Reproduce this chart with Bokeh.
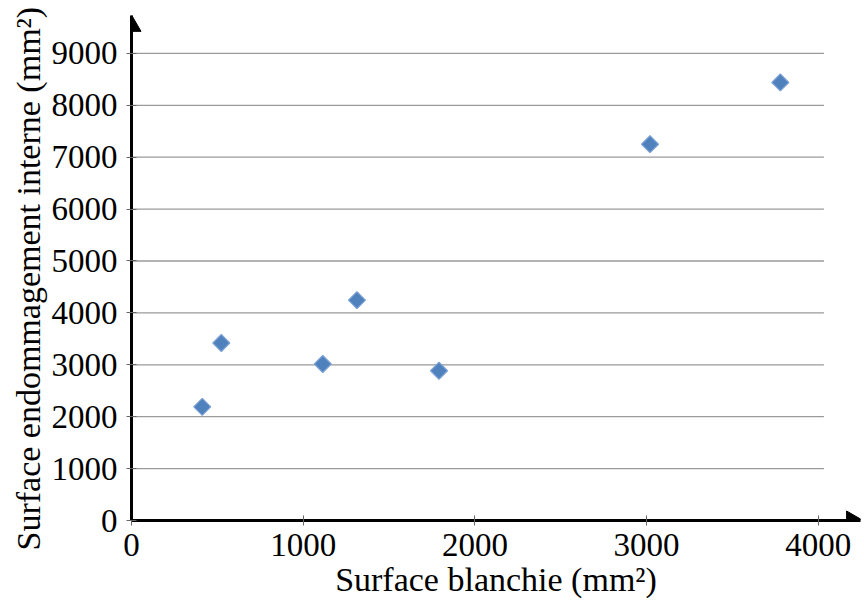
import math
from bokeh.plotting import figure
from bokeh.models import Range1d, FixedTicker, ColumnDataSource, Title
from bokeh.embed import file_html
from bokeh.resources import INLINE

# Data
surface_blanchie = [412, 523, 1114, 1313, 1791, 3020, 3779]
surface_endommagement = [2190, 3420, 3015, 4245, 2885, 7250, 8440]
x_ticks = [0, 1000, 2000, 3000, 4000]
y_ticks = [0, 1000, 2000, 3000, 4000, 5000, 6000, 7000, 8000, 9000]
x_label = "Surface blanchie (mm²)"
y_label = "Surface endommagement interne (mm²)"

FONT = "Liberation Serif"

X_END = 4246
Y_END = 9730

p = figure(width=864, height=603, output_backend="svg", toolbar_location=None,
           x_range=Range1d(0, X_END), y_range=Range1d(0, Y_END),
           min_border_left=131, min_border_bottom=83, min_border_top=15, min_border_right=4)
p.outline_line_color = None
p.xgrid.visible = False
p.ygrid.visible = False

# grid lines (horizontal)
grid_y = [v for v in y_ticks if v > 0]
p.segment(x0=[0] * len(grid_y), x1=[4033] * len(grid_y), y0=grid_y, y1=grid_y,
          line_color="#9a9a9a", line_width=1.3)

for ax, ticks in ((p.xaxis[0], x_ticks), (p.yaxis[0], y_ticks)):
    ax.ticker = FixedTicker(ticks=ticks)
    ax.axis_line_color = "black"
    ax.axis_line_width = 3
    ax.major_tick_in = 5
    ax.major_tick_out = 5
    ax.major_tick_line_color = "#666666"
    ax.major_tick_line_width = 1
    ax.minor_tick_line_color = None
    ax.major_label_text_font = FONT
    ax.major_label_text_font_size = "33px"
    ax.major_label_text_color = "black"

p.xaxis.axis_label = x_label
p.xaxis.axis_label_text_font = FONT
p.xaxis.axis_label_text_font_size = "34px"
p.xaxis.axis_label_text_font_style = "normal"
p.xaxis.axis_label_text_color = "black"
p.xaxis.major_label_standoff = 8
p.xaxis.axis_label_standoff = 2
p.yaxis.major_label_standoff = 9

# y axis title, in its own side panel, starting a little below the frame bottom
p.add_layout(Title(text=y_label, align="left", offset=-30, standoff=4,
                   text_font=FONT, text_font_size="34px", text_font_style="normal",
                   text_color="black"), "left")

# arrow heads at the axis ends
p.scatter(x=[0], y=[9530], marker="triangle", size=19, angle=0,
          fill_color="black", line_color="black")
p.scatter(x=[4197], y=[0], marker="triangle", size=19, angle=-math.pi / 2,
          fill_color="black", line_color="black")

src = ColumnDataSource(dict(x=surface_blanchie, y=surface_endommagement))
p.scatter("x", "y", source=src, marker="square", angle=0.785398, size=12,
          fill_color="#4F81BD", line_color="#7BA0D4", line_width=1.2)

open("out.html", "w").write(file_html(p, INLINE))
